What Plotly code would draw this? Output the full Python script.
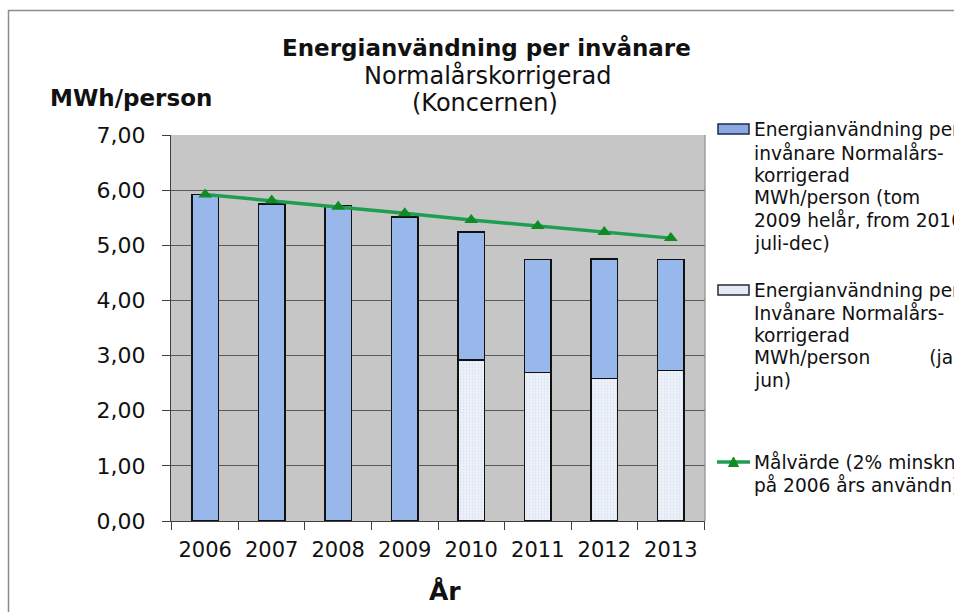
import plotly.graph_objects as go

# Data (MWh per inhabitant, normal-year corrected)
years = ["2006", "2007", "2008", "2009", "2010", "2011", "2012", "2013"]
energi_helar_julidec = [5.92, 5.75, 5.72, 5.51, 2.32, 2.05, 2.17, 2.01]
energi_janjun = [None, None, None, None, 2.92, 2.69, 2.58, 2.73]
malvarde = [5.92, 5.81, 5.70, 5.58, 5.46, 5.35, 5.24, 5.13]

W, H = 954, 612
L, R, T, B = 171, 249, 135, 91
PW, PH = W - L - R, H - T - B

FONT = "DejaVu Sans, Liberation Sans, Arial, sans-serif"
BLUE = "#98b8ec"
PALE = "#eef3fa"
DOTS = "#c3d3ea"
GREEN_LINE = "#1e9e50"
GREEN_MARK = "#108a24"


def px(x):
    return (x - L) / PW


def py(y):
    return (H - B - y) / PH


fig = go.Figure()

fig.add_trace(go.Bar(
    x=years, y=energi_janjun, name="jan-jun",
    marker=dict(color=PALE, line=dict(color="#111111", width=1.5),
                pattern=dict(shape=".", fgcolor=DOTS, bgcolor=PALE, size=3, solidity=0.3)),
    showlegend=False,
))
fig.add_trace(go.Bar(
    x=years, y=energi_helar_julidec, name="helår / juli-dec",
    marker=dict(color=BLUE, line=dict(color="#111111", width=1.5)),
    showlegend=False,
))
fig.add_trace(go.Scatter(
    x=years, y=malvarde, mode="lines+markers", name="Målvärde",
    line=dict(color=GREEN_LINE, width=3.5),
    marker=dict(symbol="triangle-up", size=12, color=GREEN_MARK),
    showlegend=False,
))

# triangle for the legend line sample, in paper coordinates
tri = [(728.5, 466.5), (738.5, 466.5), (733.5, 457)]
tri_path = "M {} {} L {} {} L {} {} Z".format(
    *[v for (x, y) in tri for v in (px(x), py(y))])

shapes = [
    # outer chart frame
    dict(type="rect", xref="paper", yref="paper",
         x0=px(8.5), y0=py(640), x1=px(980), y1=py(10.5),
         line=dict(color="#8c8c8c", width=1.5), layer="below"),
    # right edge of plot area
    dict(type="line", xref="paper", yref="paper", x0=1, x1=1, y0=0, y1=1,
         line=dict(color="#8e8e8e", width=1.2)),
    # legend swatches
    dict(type="rect", xref="paper", yref="paper",
         x0=px(718), x1=px(749), y0=py(134), y1=py(124),
         fillcolor="#8ea8e2", line=dict(color="#1c2a55", width=1.5)),
    dict(type="rect", xref="paper", yref="paper",
         x0=px(718), x1=px(749), y0=py(295), y1=py(285),
         fillcolor="#e4ebf4", line=dict(color="#2a2a3a", width=1.5)),
    dict(type="line", xref="paper", yref="paper",
         x0=px(717), x1=px(750), y0=py(462), y1=py(462),
         line=dict(color=GREEN_LINE, width=3.5)),
    dict(type="path", xref="paper", yref="paper", path=tri_path,
         fillcolor=GREEN_MARK, line=dict(color=GREEN_MARK, width=1)),
]

annotations = [
    dict(text="<b>Energianvändning per invånare</b>", x=px(486.5), y=py(48),
         font=dict(size=23)),
    dict(text="Normalårskorrigerad", x=px(487), y=py(76), font=dict(size=24)),
    dict(text="(Koncernen)", x=px(485), y=py(103), font=dict(size=24)),
    dict(text="<b>MWh/person</b>", x=px(131), y=py(98), font=dict(size=23)),
    dict(text="<b>År</b>", x=px(445), y=py(591), font=dict(size=25)),
]
for a in annotations:
    a.update(xref="paper", yref="paper", showarrow=False,
             xanchor="center", yanchor="middle")

legend_blocks = [
    (["Energianvändning per", "invånare Normalårs-", "korrigerad",
      "MWh/person (tom", "2009 helår, from 2010", "juli-dec)"], 130),
    (["Energianvändning per", "Invånare Normalårs-", "korrigerad",
      "MWh/person\u00a0\u00a0\u00a0\u00a0\u00a0\u00a0\u00a0\u00a0\u00a0\u00a0(jan-", "jun)"], 290),
    (["Målvärde (2% minskning", "på 2006 års användn)"], 462),
]
for lines, y0 in legend_blocks:
    for i, line in enumerate(lines):
        annotations.append(dict(
            text=line, xref="paper", yref="paper", x=px(752), y=py(y0 + 22.6 * i),
            xanchor="left", yanchor="middle", showarrow=False,
            font=dict(size=18.6),
        ))

fig.update_layout(
    width=W, height=H, autosize=False,
    margin=dict(l=L, r=R, t=T, b=B, pad=0),
    paper_bgcolor="white", plot_bgcolor="#c6c6c6",
    font=dict(family=FONT, color="#111111"),
    separators=", ",
    barmode="stack", bargap=0.6,
    showlegend=False,
    shapes=shapes, annotations=annotations,
    xaxis=dict(
        type="category", tickson="boundaries", ticks="outside", ticklen=8,
        tickcolor="#404040", tickwidth=1, showline=True, linecolor="#404040",
        linewidth=1, showgrid=False, tickfont=dict(size=21),
        ticklabelstandoff=10, fixedrange=True,
    ),
    yaxis=dict(
        range=[0, 7], dtick=1, tickformat=".2f", ticks="outside", ticklen=8,
        tickcolor="#404040", showline=True, linecolor="#404040", linewidth=1,
        showgrid=True, gridcolor="#5a5a5a", gridwidth=1, zeroline=False,
        tickfont=dict(size=22), ticklabelstandoff=12, fixedrange=True,
    ),
)

fig.write_html("out.html", config=dict(displayModeBar=False))
